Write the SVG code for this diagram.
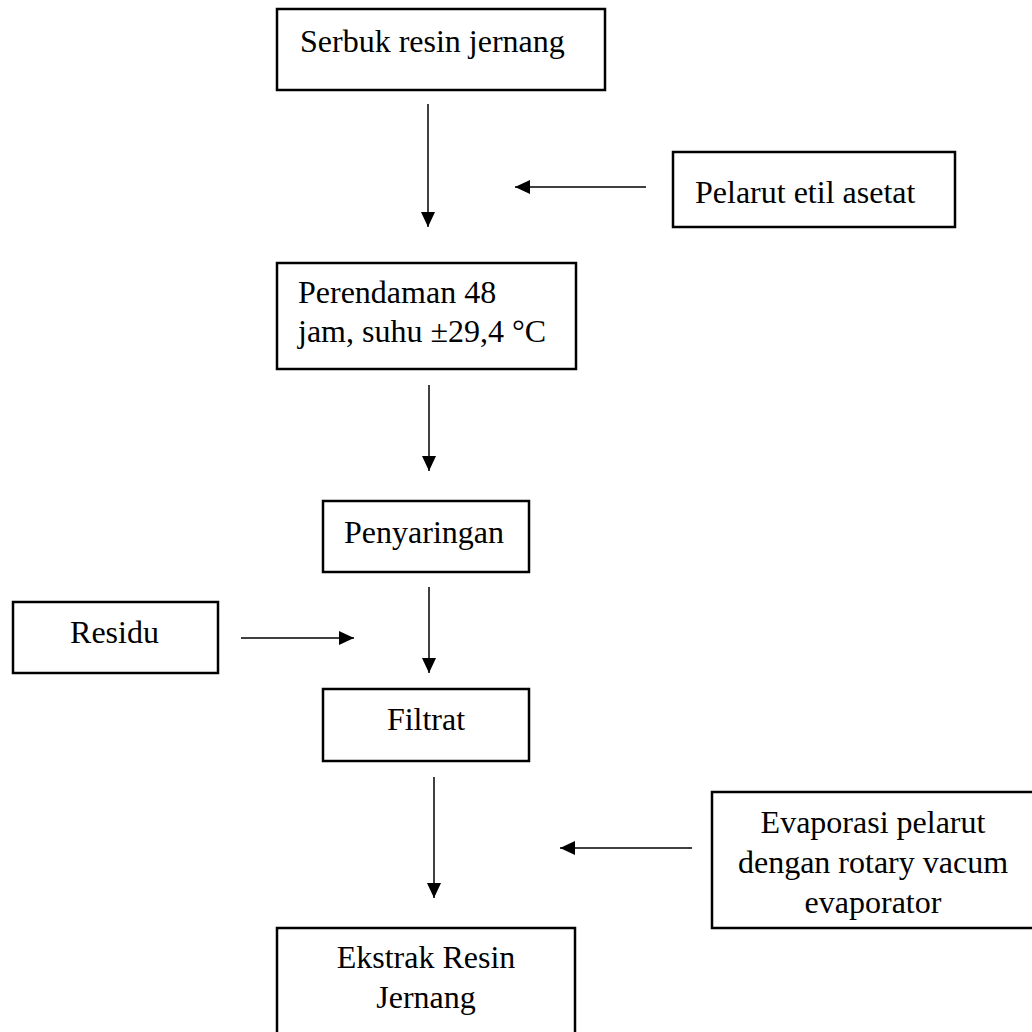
<svg xmlns="http://www.w3.org/2000/svg" width="1032" height="1032" viewBox="0 0 1032 1032">
<style>
  .box { fill: #ffffff; stroke: #000000; stroke-width: 2.5; }
  .lbl { font-family: "Liberation Serif", "Times New Roman", serif; font-size: 32px; fill: #000000; }
  .mid { text-anchor: middle; }
  .conn { stroke: #000000; stroke-width: 1.5; fill: none; marker-end: url(#arrow); }
</style>
<defs>
  <marker id="arrow" viewBox="0 0 15 14" refX="15" refY="7" markerWidth="15" markerHeight="14" markerUnits="userSpaceOnUse" orient="auto">
    <path d="M0,0 L15,7 L0,14 z" fill="#000000"/>
  </marker>
</defs>
<rect width="1032" height="1032" fill="#ffffff"/>

<g id="connectors">
  <line class="conn" x1="428" y1="104" x2="428" y2="227"/>
  <line class="conn" x1="646" y1="187" x2="515" y2="187"/>
  <line class="conn" x1="429" y1="385" x2="429" y2="471"/>
  <line class="conn" x1="429" y1="587" x2="429" y2="673"/>
  <line class="conn" x1="241" y1="638" x2="354" y2="638"/>
  <line class="conn" x1="434" y1="777" x2="434" y2="898"/>
  <line class="conn" x1="692" y1="848" x2="560" y2="848"/>
</g>

<g id="serbuk">
  <rect class="box" x="277" y="9" width="328" height="81"/>
  <text class="lbl" x="300" y="52">Serbuk resin jernang</text>
</g>

<g id="pelarut">
  <rect class="box" x="673" y="152" width="282" height="75"/>
  <text class="lbl" x="695" y="203">Pelarut etil asetat</text>
</g>

<g id="perendaman">
  <rect class="box" x="277" y="263" width="299" height="106"/>
  <text class="lbl" x="298" y="303">Perendaman 48</text>
  <text class="lbl" x="298" y="342">jam, suhu ±29,4 °C</text>
</g>

<g id="penyaringan">
  <rect class="box" x="323" y="501" width="206" height="71"/>
  <text class="lbl mid" x="424" y="543">Penyaringan</text>
</g>

<g id="residu">
  <rect class="box" x="13" y="602" width="205" height="71"/>
  <text class="lbl mid" x="114.5" y="643">Residu</text>
</g>

<g id="filtrat">
  <rect class="box" x="323" y="689" width="206" height="72"/>
  <text class="lbl mid" x="426" y="730">Filtrat</text>
</g>

<g id="evaporasi">
  <rect class="box" x="712" y="792" width="340" height="136"/>
  <text class="lbl mid" x="873" y="833">Evaporasi pelarut</text>
  <text class="lbl mid" x="873" y="873">dengan rotary vacum</text>
  <text class="lbl mid" x="873" y="913">evaporator</text>
</g>

<g id="ekstrak">
  <rect class="box" x="277" y="928" width="298" height="130"/>
  <text class="lbl mid" x="426" y="968">Ekstrak Resin</text>
  <text class="lbl mid" x="426" y="1008">Jernang</text>
</g>
</svg>
